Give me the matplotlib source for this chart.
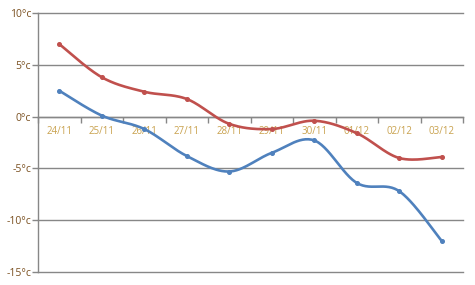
import numpy as np
import matplotlib
matplotlib.use("Agg")
import matplotlib.pyplot as plt

dates = ["24/11", "25/11", "26/11", "27/11", "28/11", "29/11", "30/11", "01/12", "02/12", "03/12"]
max_temp = [7.0, 3.8, 2.4, 1.7, -0.7, -1.2, -0.4, -1.6, -4.0, -3.9]
min_temp = [2.5, 0.1, -1.2, -3.8, -5.3, -3.5, -2.3, -6.4, -7.2, -12.0]
y_ticks = [10, 5, 0, -5, -10, -15]
y_labels = ["10°c", "5°c", "0°c", "-5°c", "-10°c", "-15°c"]

RED = "#C0504D"
BLUE = "#4F81BD"
GRID = "#878787"


def smooth(x, y, n=30):
    x = np.asarray(x, float)
    y = np.asarray(y, float)
    px = np.concatenate([[x[0]], x, [x[-1]]])
    py = np.concatenate([[y[0]], y, [y[-1]]])
    xs, ys = [], []
    t = np.linspace(0, 1, n)
    for i in range(1, len(px) - 2):
        p0 = np.array([px[i], py[i]])
        p3 = np.array([px[i + 1], py[i + 1]])
        c1 = p0 + (np.array([px[i + 1], py[i + 1]]) - np.array([px[i - 1], py[i - 1]])) / 6
        c2 = p3 - (np.array([px[i + 2], py[i + 2]]) - np.array([px[i], py[i]])) / 6
        b = ((1 - t) ** 3)[:, None] * p0 + (3 * (1 - t) ** 2 * t)[:, None] * c1 + \
            (3 * (1 - t) * t ** 2)[:, None] * c2 + (t ** 3)[:, None] * p3
        xs.append(b[:, 0])
        ys.append(b[:, 1])
    return np.concatenate(xs), np.concatenate(ys)


fig = plt.figure(figsize=(4.75, 2.85), dpi=100)
ax = fig.add_axes([38 / 475, 1 - 272 / 285, (463 - 38) / 475, (272 - 13) / 285])

xi = np.arange(len(dates))
for vals, col in [(max_temp, RED), (min_temp, BLUE)]:
    sx, sy = smooth(xi, vals)
    ax.plot(sx, sy, color=col, lw=1.9, solid_capstyle="round", zorder=3)
    ax.plot(xi, vals, "o", color=col, ms=2.6, zorder=4)

ax.set_xlim(-0.5, len(dates) - 0.5)
ax.set_ylim(-15, 10)
ax.set_yticks(y_ticks)
ax.set_yticklabels(y_labels, fontsize=7.5, color="#7A5020", family="Open Sans")
for yv in y_ticks:
    ax.axhline(yv, color=GRID, lw=1, zorder=1, clip_on=False)

for s in ["top", "right"]:
    ax.spines[s].set_visible(False)
ax.spines["left"].set_color(GRID)
ax.spines["left"].set_linewidth(1)
ax.spines["bottom"].set_position(("data", 0))
ax.spines["bottom"].set_color(GRID)
ax.spines["bottom"].set_linewidth(1)

ax.set_xticks(np.arange(-0.5, len(dates), 1.0))
ax.set_xticklabels([])
ax.set_xticks(xi, minor=True)
ax.set_xticklabels(dates, minor=True, fontsize=7, color="#C9A24E", family="Open Sans")
ax.tick_params(axis="x", which="major", direction="out", length=4, color=GRID, width=1)
ax.tick_params(axis="x", which="minor", length=0, pad=7)
ax.tick_params(axis="y", direction="out", length=4, color=GRID, width=1, pad=1)

fig.savefig("out.png", dpi=100)
